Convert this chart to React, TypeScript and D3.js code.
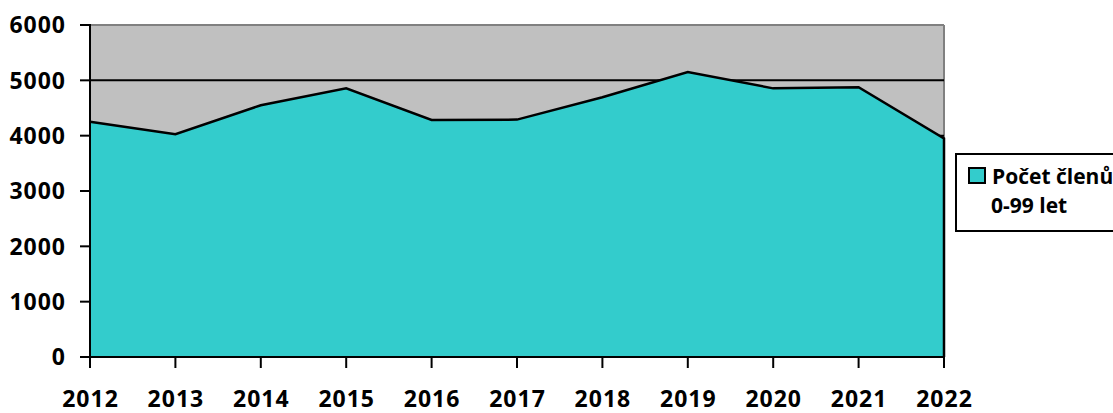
import React from "react";
import * as d3 from "d3";

const years = ["2012", "2013", "2014", "2015", "2016", "2017", "2018", "2019", "2020", "2021", "2022"];
const members = [4250, 4025, 4550, 4855, 4285, 4290, 4695, 5150, 4855, 4875, 3950];
const yTicks = [0, 1000, 2000, 3000, 4000, 5000, 6000];
const seriesName = ["Počet členů", "0-99 let"];

const W = 1113;
const H = 413;
const left = 90;
const right = 944;
const top = 25;
const bottom = 357;
const font = "'Open Sans', 'DejaVu Sans', sans-serif";
const ls = 1;

export default function App() {
  const x = d3.scalePoint<string>().domain(years).range([left, right]);
  const y = d3.scaleLinear().domain([0, 6000]).range([bottom, top]);

  const data = years.map((yr, i) => ({ yr, v: members[i] }));
  const area = d3
    .area<{ yr: string; v: number }>()
    .x((d) => x(d.yr) as number)
    .y0(y(0))
    .y1((d) => y(d.v));
  const line = d3
    .line<{ yr: string; v: number }>()
    .x((d) => x(d.yr) as number)
    .y((d) => y(d.v));

  const outline = line(data) + `L${x(years[years.length - 1])},${y(0)}`;

  return (
    <svg
      width={W}
      height={H}
      style={{ position: "absolute", left: 0, top: 0, background: "#fff" }}
    >
      <rect x={left} y={top} width={right - left} height={bottom - top} fill="#C0C0C0" />
      <line x1={left} x2={right} y1={top} y2={top} stroke="#808080" strokeWidth={2} />
      <line x1={right} x2={right} y1={top} y2={bottom} stroke="#808080" strokeWidth={2} />
      {yTicks.slice(1, -1).map((t) => (
        <line key={t} x1={left} x2={right} y1={y(t)} y2={y(t)} stroke="#000" strokeWidth={2} />
      ))}
      <path d={area(data) || ""} fill="#33CCCC" />
      <path d={outline} fill="none" stroke="#000" strokeWidth={2.5} strokeLinejoin="miter" />
      <line x1={left} x2={left} y1={top - 1} y2={bottom} stroke="#000" strokeWidth={2} />
      <line x1={left} x2={right + 1} y1={bottom} y2={bottom} stroke="#000" strokeWidth={2} />
      {yTicks.map((t) => (
        <g key={t}>
          <line x1={left - 10} x2={left} y1={y(t)} y2={y(t)} stroke="#000" strokeWidth={2} />
          <text
            x={65 + ls}
            y={y(t)}
            dy="0.36em"
            textAnchor="end"
            fontFamily={font}
            fontWeight={700}
            fontSize={23}
            letterSpacing={ls}
            fill="#000"
          >
            {t}
          </text>
        </g>
      ))}
      {years.map((yr) => (
        <g key={yr}>
          <line x1={x(yr)} x2={x(yr)} y1={bottom} y2={bottom + 11} stroke="#000" strokeWidth={2} />
          <text
            x={(x(yr) as number) + ls / 2}
            y={406.5}
            textAnchor="middle"
            fontFamily={font}
            fontWeight={700}
            fontSize={23}
            letterSpacing={ls}
            fill="#000"
          >
            {yr}
          </text>
        </g>
      ))}
      <rect x={956} y={154} width={170} height={77} fill="#fff" stroke="#000" strokeWidth={2} />
      <rect x={969} y={168} width={16} height={15} fill="#33CCCC" stroke="#000" strokeWidth={2} />
      <text x={992} y={184} fontFamily={font} fontWeight={700} fontSize={21} fill="#000">
        {seriesName[0]}
      </text>
      <text x={991} y={213} fontFamily={font} fontWeight={700} fontSize={21} fill="#000">
        {seriesName[1]}
      </text>
    </svg>
  );
}
